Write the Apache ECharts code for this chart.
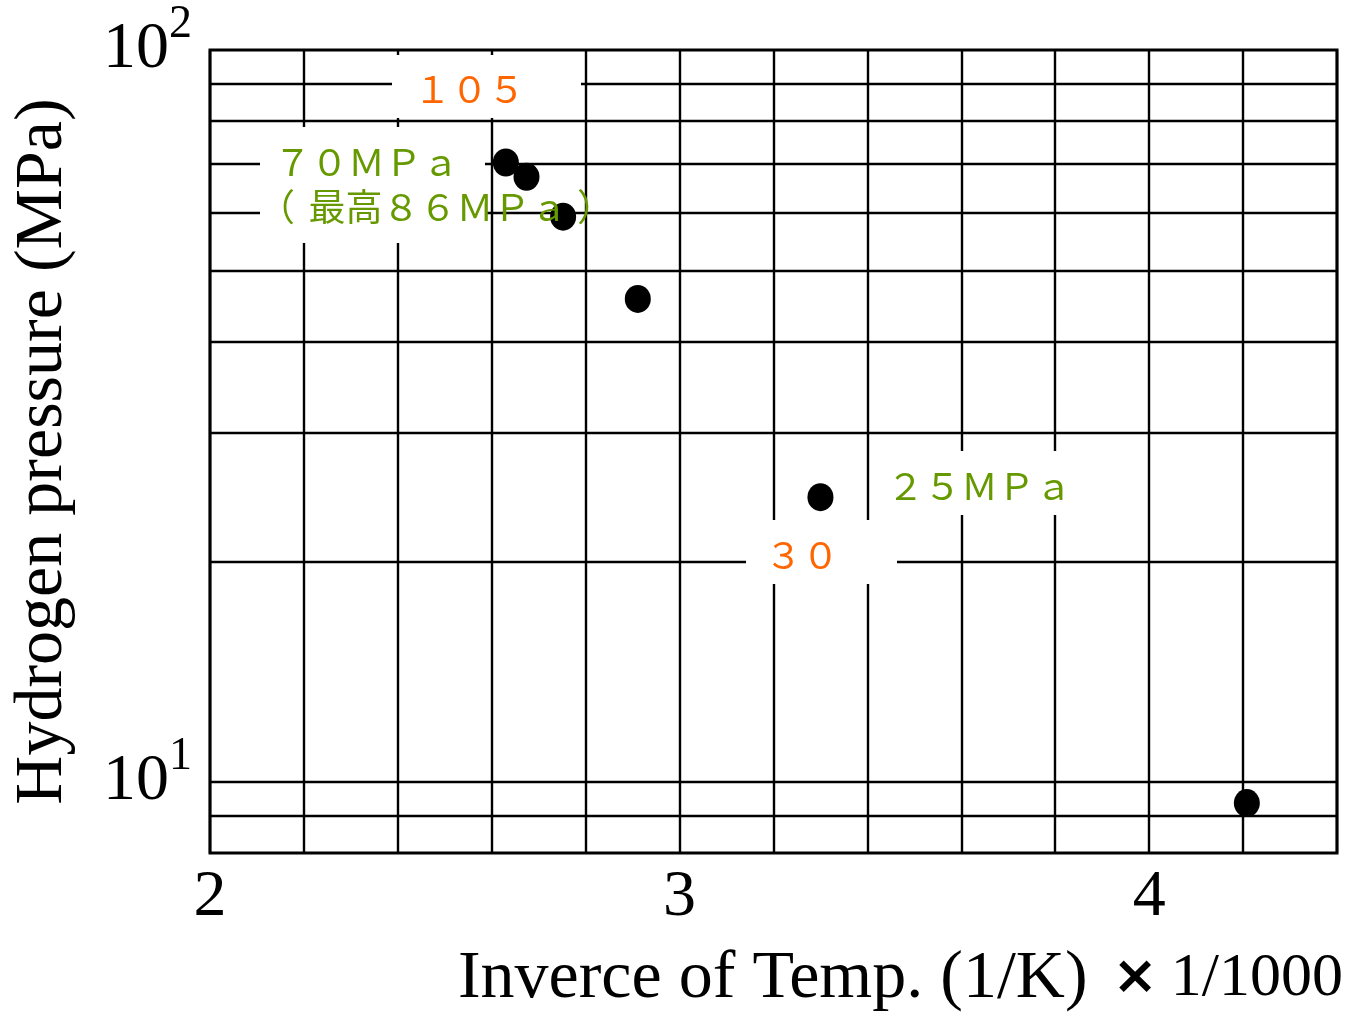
<!DOCTYPE html>
<html>
<head>
<meta charset="utf-8">
<script src="https://cdn.jsdelivr.net/npm/echarts@6/dist/echarts.min.js"></script>
<style>
  html, body { margin: 0; padding: 0; background: #fff; }
  #main { width: 1351px; height: 1012px; }
</style>
</head>
<body>
<div id="main"></div>
<script>
// 1000/T (1/K) and hydrogen pressure (MPa)
const invTemp = [2.630, 2.674, 2.752, 2.911, 3.300, 4.208];
const pressure = [70.2, 67.1, 59.2, 45.7, 24.5, 9.36];
// horizontal grid lines on the log axis
const yGridValues = [9, 10, 20, 30, 40, 50, 60, 70, 80, 90];
const xTickLabels = { 2: "2", 3: "3", 4: "4" };
const yTickLabels = { 10: "{b|10}{s|1}", 100: "{b|10}{s|2}" };

const serif = "Liberation Serif";
const orange = "#FF6600";
const green = "#669900";

const chart = echarts.init(document.getElementById("main"), null, { renderer: "canvas" });

function box(x, y, w, h) {
    return {
        type: "rect",
        z: 10,
        shape: { x: x, y: y, width: w, height: h },
        style: { fill: "#fff" },
        silent: true,
    };
}
function note(text, x, y, color) {
    return {
        type: "text",
        z: 11,
        x: x,
        y: y,
        style: {
            text: text,
            fill: color,
            font: "37px 'Noto Sans CJK JP'",
            textVerticalAlign: "middle",
        },
        silent: true,
    };
}

const option = {
    animation: false,
    grid: {
        left: 210,
        right: 14,
        top: 50,
        bottom: 159,
        containLabel: false,
        outerBoundsMode: "none",
        show: true,
        borderColor: "#000",
        borderWidth: 3,
        backgroundColor: "#fff",
    },
    xAxis: {
        type: "value",
        min: 2,
        max: 4.4,
        interval: 0.2,
        axisLine: { show: false },
        axisTick: { show: false },
        splitLine: { show: true, lineStyle: { color: "#000", width: 2.4 } },
        axisLabel: {
            margin: 12,
            color: "#000",
            fontFamily: serif,
            fontSize: 66,
            formatter: function (v) {
                const k = Math.round(v * 10) / 10;
                return xTickLabels[k] !== undefined && Math.abs(k - Math.round(k)) < 1e-6 ? xTickLabels[k] : "";
            },
        },
        name: "Inverce of Temp. (1/K) {x|×}{n|1/1000}",
        nameLocation: "end",
        nameGap: 6,
        nameMoveOverlap: false,
        nameTextStyle: {
            color: "#000",
            fontFamily: serif,
            fontSize: 68,
            align: "right",
            verticalAlign: "top",
            padding: [92, 0, 0, 0],
            rich: {
                x: { fontFamily: "DejaVu Sans", fontWeight: "bold", fontSize: 54, color: "#000", padding: [0, 13, 0, 8] },
                n: { fontFamily: serif, fontSize: 62, color: "#000" },
            },
        },
    },
    yAxis: {
        type: "log",
        logBase: 10,
        min: 8,
        max: 100,
        axisLine: { show: false },
        axisTick: { show: false },
        splitLine: { show: false },
        minorSplitLine: { show: false },
        axisLabel: {
            margin: 18,
            color: "#000",
            padding: [0, 0, 15, 0],
            formatter: function (v) {
                const k = Math.round(v);
                return yTickLabels[k] !== undefined && Math.abs(v - k) < 1e-6 ? yTickLabels[k] : "";
            },
            rich: {
                b: { fontFamily: serif, fontSize: 66, lineHeight: 81, color: "#000", verticalAlign: "bottom" },
                s: { fontFamily: serif, fontSize: 46, lineHeight: 46, color: "#000", verticalAlign: "top" },
            },
        },
        name: "Hydrogen pressure (MPa)",
        nameLocation: "middle",
        nameGap: 133,
        nameRotate: 90,
        nameMoveOverlap: false,
        nameTextStyle: { color: "#000", fontFamily: serif, fontSize: 68 },
    },
    series: [
        {
            type: "scatter",
            data: invTemp.map((t, i) => [t, pressure[i]]),
            symbol: "circle",
            symbolSize: [26, 28],
            itemStyle: { color: "#000", opacity: 1 },
            silent: true,
            z: 5,
            markLine: {
                silent: true,
                symbol: ["none", "none"],
                label: { show: false },
                lineStyle: { color: "#000", width: 2.4, type: "solid" },
                data: yGridValues.map((v) => ({ yAxis: v })),
            },
        },
    ],
    graphic: [
        box(392, 55, 189, 63),
        box(260, 127, 225, 116),
        box(870, 451, 220, 64),
        box(746, 520, 151, 64),
        note("１０５", 414, 88.5, orange),
        note("７０ＭＰａ", 274, 162, green),
        note("（", 258, 207, green),
        note("最高８６ＭＰａ", 308.5, 207, green),
        note("）", 577, 207, green),
        note("２５ＭＰａ", 887, 485.5, green),
        note("３０", 765, 555, orange),
    ],
};

chart.setOption(option);
</script>
</body>
</html>
